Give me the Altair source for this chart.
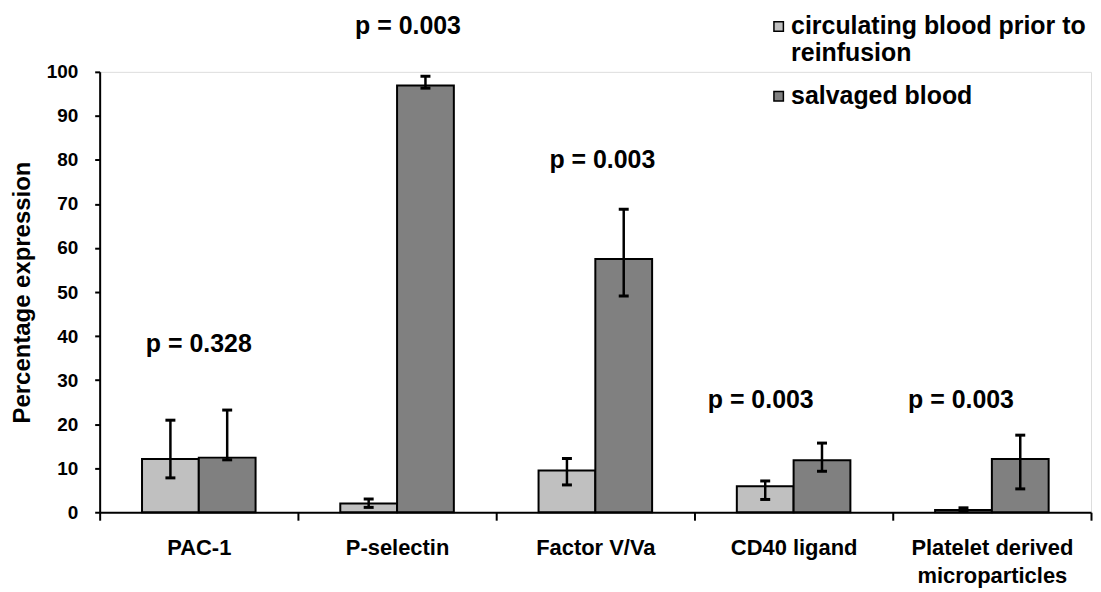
import altair as alt
import pandas as pd

categories = ["PAC-1", "P-selectin", "Factor V/Va", "CD40 ligand", "Platelet derived microparticles"]
series = ["circulating blood prior to reinfusion", "salvaged blood"]

circ_val = [12.1, 2.0, 9.5, 5.9, 0.5]
circ_lo = [7.8, 1.1, 6.2, 2.9, 0.3]
circ_hi = [20.9, 3.0, 12.2, 7.1, 1.0]

salv_val = [12.4, 96.9, 57.5, 11.8, 12.1]
salv_lo = [11.9, 96.3, 49.1, 9.3, 5.3]
salv_hi = [23.2, 99.0, 68.8, 15.7, 17.5]

p_text = ["p = 0.328", "p = 0.003", "p = 0.003", "p = 0.003", "p = 0.003"]
p_y = [38.3, 110.3, 80.0, 25.4, 25.4]

rows = []
for i, c in enumerate(categories):
    rows.append(dict(category=c, series=series[0], value=circ_val[i], lo=circ_lo[i], hi=circ_hi[i]))
    rows.append(dict(category=c, series=series[1], value=salv_val[i], lo=salv_lo[i], hi=salv_hi[i]))
df = pd.DataFrame(rows)
pdf = pd.DataFrame(dict(category=categories, label=p_text, y=p_y))

FONT = "Liberation Sans"

x_enc = alt.X(
    "category:N",
    sort=categories,
    scale=alt.Scale(domain=categories, paddingInner=0, paddingOuter=0),
    axis=alt.Axis(
        title=None, labelAngle=0, labelFont=FONT, labelFontSize=22, labelFontWeight="bold",
        labelColor="black", labelPadding=17, labelLineHeight=29, labelLimit=0,
        tickBand="extent", tickSize=8, tickWidth=2, tickColor="black",
        domainColor="black", domainWidth=2,
        labelExpr="datum.label == 'Platelet derived microparticles' ? ['Platelet derived', 'microparticles'] : datum.label",
    ),
)
xoff = alt.XOffset("series:N", sort=series,
                   scale=alt.Scale(domain=series, paddingInner=0, paddingOuter=0.746))

y_scale = alt.Scale(domain=[0, 100], nice=False)
y_axis = alt.Axis(
    title="Percentage expression", titleFont=FONT, titleFontSize=24, titleFontWeight="bold",
    titleColor="black", titlePadding=12,
    values=list(range(0, 101, 10)), labelFont=FONT, labelFontSize=19, labelFontWeight="bold",
    labelColor="black", labelPadding=17, tickSize=5, tickWidth=2, tickColor="black",
    domainColor="black", domainWidth=2, grid=False,
)

base = alt.Chart(df).encode(x=x_enc, xOffset=xoff)

bars = base.mark_bar(stroke="black", strokeWidth=2).encode(
    y=alt.Y("value:Q", scale=y_scale, axis=y_axis),
    color=alt.Color(
        "series:N", sort=series,
        scale=alt.Scale(domain=series, range=["#C0C0C0", "#808080"]),
        legend=alt.Legend(
            title=None, orient="none", legendX=669, legendY=-58,
            symbolType="square", symbolSize=90, symbolStrokeColor="black",
            symbolStrokeWidth=1.5, symbolOpacity=1,
            labelFont=FONT, labelFontSize=25, labelFontWeight="bold", labelColor="black",
            labelLimit=0, labelOffset=0, rowPadding=17,
            labelExpr="datum.label == 'circulating blood prior to reinfusion' ? ['circulating blood prior to', 'reinfusion'] : datum.label",
        ),
    ),
)

err = base.mark_rule(color="black", strokeWidth=2.5).encode(
    y=alt.Y("lo:Q", scale=y_scale, axis=y_axis), y2="hi:Q"
)
cap_hi = base.mark_tick(color="black", size=10, thickness=3, opacity=1).encode(
    y=alt.Y("hi:Q", scale=y_scale, axis=y_axis)
)
cap_lo = base.mark_tick(color="black", size=10, thickness=3, opacity=1).encode(
    y=alt.Y("lo:Q", scale=y_scale, axis=y_axis)
)

label_dx = [0, 11, 7, -33, -31]
texts = []
for i, c in enumerate(categories):
    texts.append(
        alt.Chart(pdf)
        .transform_filter(alt.datum.category == c)
        .mark_text(dx=label_dx[i], font=FONT, fontSize=25, fontWeight="bold", color="black",
                   baseline="middle", align="center")
        .encode(x=x_enc, y=alt.Y("y:Q", scale=y_scale, axis=y_axis), text="label:N")
    )

chart = (
    alt.layer(bars, err, cap_hi, cap_lo, *texts)
    .properties(
        width=995, height=442,
        autosize=alt.AutoSizeParams(type="none"),
        padding={"left": 92, "top": 63, "right": 2, "bottom": 85},
    )
    .configure_view(stroke=None)
    .configure(background="white")
)

chart.save("out.html", embed_options={"renderer": "svg", "actions": False})
